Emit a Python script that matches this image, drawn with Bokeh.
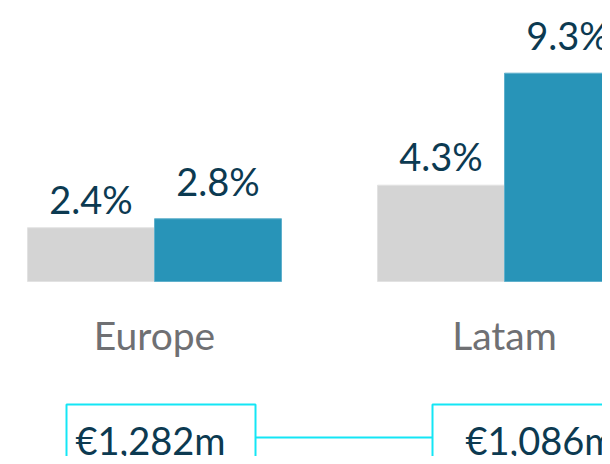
from bokeh.plotting import figure
from bokeh.models import Range1d, ColumnDataSource
from bokeh.embed import file_html
from bokeh.resources import INLINE
from bokeh.core.properties import value

# ---- data ----
regions = ["Europe", "Latam"]
prev_growth = [2.4, 4.3]
curr_growth = [2.8, 9.3]
prev_labels = ["2.4%", "4.3%"]
curr_labels = ["2.8%", "9.3%"]
revenue_labels = ["€1,282m", "€1,086m"]

# ---- layout constants (pixels) ----
W, H = 602, 456
PX_PER_PCT = 22.4          # vertical scale
BASE_PX = 175              # baseline height above bottom of frame
GROUP_PX = 350             # distance between group centres
X0_PX = 154                # first group centre from left of frame
BAR_PX = 127
TXT_FIX = 15               # compensation for text baseline placement

FONT = value("Lato")
NAVY = "#0c3a51"
GREY_TXT = "#6f7073"
BAR_GREY = "#d4d4d4"
BAR_BLUE = "#2894b8"
CYAN = "#14e6f5"

def dx(px):
    return px / GROUP_PX

def dy(px):
    return px / PX_PER_PCT

p = figure(width=W, height=H, output_backend="svg", toolbar_location=None,
           x_range=Range1d(-dx(X0_PX), dx(W - X0_PX)),
           y_range=Range1d(-dy(BASE_PX), dy(H - BASE_PX)),
           min_border=0, x_axis_location=None, y_axis_location=None,
           outline_line_color=None, background_fill_color="white",
           border_fill_color="white")
p.xgrid.visible = False
p.ygrid.visible = False

xs = list(range(len(regions)))
bw = dx(BAR_PX)

src = ColumnDataSource(dict(
    x=xs,
    gl=[x - bw for x in xs], gr=xs,
    bl=xs, br=[x + bw for x in xs],
    prev=prev_growth, curr=curr_growth,
    gc=[x - bw / 2 for x in xs], bc=[x + bw / 2 for x in xs],
    prev_lab=prev_labels, curr_lab=curr_labels,
    region=regions, rev=revenue_labels,
))

# bars
p.quad(left="gl", right="gr", bottom=0, top="prev", source=src,
       fill_color=BAR_GREY, line_color="#e2e2e2", line_width=1)
p.quad(left="bl", right="br", bottom=0, top="curr", source=src,
       fill_color=BAR_BLUE, line_color="#5fb0cc", line_width=1)

# value labels
p.text(x="gc", y="prev", text="prev_lab", source=src, text_font=FONT,
       text_font_size="38px", text_color=NAVY, text_align="center",
       text_baseline="alphabetic", y_offset=-(14 + TXT_FIX))
p.text(x="bc", y="curr", text="curr_lab", source=src, text_font=FONT,
       text_font_size="38px", text_color=NAVY, text_align="center",
       text_baseline="alphabetic", y_offset=-(23 + TXT_FIX))

# category labels
p.text(x="x", y=-dy(68), text="region", source=src, text_font=FONT,
       text_font_size="39px", text_color=GREY_TXT, text_align="center",
       text_baseline="alphabetic", y_offset=-TXT_FIX)

# revenue boxes
box_left_px = [-88, -72]
box_w_px = 189
text_left_px = [-79, -39]
box_top = -dy(123)
box_bottom = -dy(BASE_PX) - 2
lefts = [x + dx(o) for x, o in zip(xs, box_left_px)]
rights = [l + dx(box_w_px) for l in lefts]
p.quad(left=lefts, right=rights, top=box_top, bottom=box_bottom,
       fill_color=None, line_color=CYAN, line_width=2)
p.segment(x0=[rights[0]], x1=[lefts[1]], y0=-dy(156), y1=-dy(156),
          line_color=CYAN, line_width=2)
p.text(x=[x + dx(o) for x, o in zip(xs, text_left_px)], y=-dy(173),
       text=revenue_labels, text_font=FONT, text_font_size="38px",
       text_color=NAVY, text_align="left", text_baseline="alphabetic",
       y_offset=-TXT_FIX)

open("out.html", "w").write(file_html(p, INLINE))
